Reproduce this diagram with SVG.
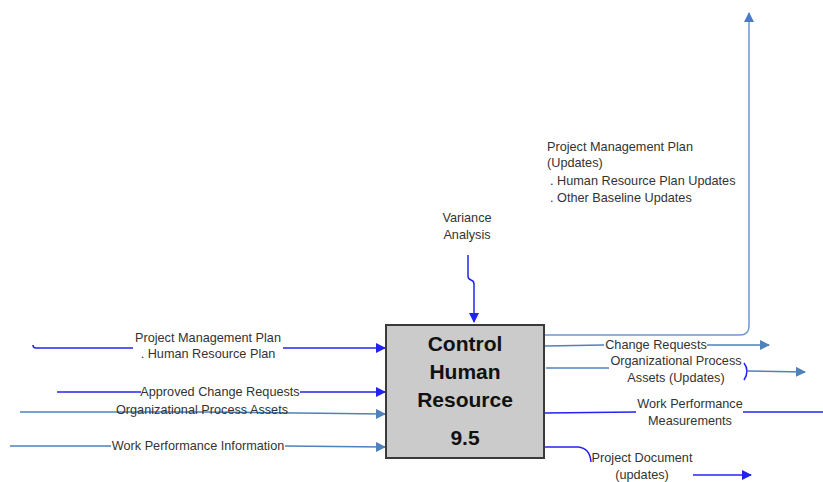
<svg xmlns="http://www.w3.org/2000/svg" width="823" height="482" viewBox="0 0 823 482">
<defs>
<style>
.lbl{font-family:"Liberation Sans",Arial,sans-serif;font-size:12.7px;fill:#333}
.title{font-family:"Liberation Sans",Arial,sans-serif;font-size:21px;font-weight:bold;fill:#111;text-anchor:middle}
.b{fill:none;stroke:#2323f0;stroke-width:1.5}
.s{fill:none;stroke:#4f81bd;stroke-width:1.5}
.l{fill:none;stroke:#6e97d4;stroke-width:1.5}
</style>
<marker id="ab" markerWidth="10" markerHeight="10" refX="9" refY="5" orient="auto" markerUnits="userSpaceOnUse"><path d="M0,0 L10,5 L0,10 Z" fill="#2323f0"/></marker>
<marker id="as" markerWidth="10" markerHeight="10" refX="9" refY="5" orient="auto" markerUnits="userSpaceOnUse"><path d="M0,0 L10,5 L0,10 Z" fill="#4f81bd"/></marker>
<marker id="al" markerWidth="10" markerHeight="10" refX="9" refY="5" orient="auto" markerUnits="userSpaceOnUse"><path d="M0,0 L10,5 L0,10 Z" fill="#4a7cc4"/></marker>
</defs>
<rect width="823" height="482" fill="#fff"/>
<g id="connectors">
<path class="b" d="M33,345 Q33,348 36,348 L133,348 M283,348 L385,348" marker-end="url(#ab)"/>
<path class="b" d="M57,392 L141,392 M300,392 L385,392" marker-end="url(#ab)"/>
<path class="s" d="M20,412 L200,412 L385,414" marker-end="url(#as)"/>
<path class="s" d="M10,446 L111,446 M285,446 L385,447" marker-end="url(#as)"/>
<path class="b" d="M468,255 L468,276 Q468,279 471,280 Q474,281 474,284 L474,322" marker-end="url(#ab)"/>
<path class="l" d="M545,335 L740,335 Q749,335 749,326 L749,13" marker-end="url(#al)"/>
<path class="s" d="M545,346 L604,345 M707,345 L769,345" marker-end="url(#as)"/>
<path class="s" d="M546,368 L609,368"/>
<path class="b" d="M744,363 Q750,371 744,380"/>
<path class="s" d="M748,371 L805,372" marker-end="url(#as)"/>
<path class="b" d="M545,413 L636,412 M743,412 L823,412"/>
<path class="b" d="M545,447 L578,447 Q590,448 591,462"/>
<path class="b" d="M693,475 L751,475" marker-end="url(#ab)"/>
</g>
<g id="process">
<rect x="386" y="325" width="158" height="133" fill="#cbcbcb" stroke="#3a3a3a" stroke-width="2"/>
<text class="title" x="465" y="351">Control</text>
<text class="title" x="465" y="379">Human</text>
<text class="title" x="465" y="407">Resource</text>
<text class="title" x="465" y="445">9.5</text>
</g>
<g id="labels">
<text class="lbl" x="208" y="342" text-anchor="middle">Project Management Plan</text>
<text class="lbl" x="208" y="358" text-anchor="middle">. Human Resource Plan</text>
<text class="lbl" x="220" y="396" text-anchor="middle">Approved Change Requests</text>
<text class="lbl" x="202" y="414" text-anchor="middle">Organizational Process Assets</text>
<text class="lbl" x="198" y="450" text-anchor="middle">Work Performance Information</text>
<text class="lbl" x="467" y="222" text-anchor="middle">Variance</text>
<text class="lbl" x="467" y="239" text-anchor="middle">Analysis</text>
<text class="lbl" x="547" y="151">Project Management Plan</text>
<text class="lbl" x="547" y="167">(Updates)</text>
<text class="lbl" x="550" y="185">. Human Resource Plan Updates</text>
<text class="lbl" x="550" y="202">. Other Baseline Updates</text>
<text class="lbl" x="656" y="349" text-anchor="middle">Change Requests</text>
<text class="lbl" x="676" y="365" text-anchor="middle">Organizational Process</text>
<text class="lbl" x="676" y="382" text-anchor="middle">Assets (Updates)</text>
<text class="lbl" x="690" y="408" text-anchor="middle">Work Performance</text>
<text class="lbl" x="690" y="425" text-anchor="middle">Measurements</text>
<text class="lbl" x="642" y="462" text-anchor="middle">Project Document</text>
<text class="lbl" x="642" y="479" text-anchor="middle">(updates)</text>
</g>
</svg>
